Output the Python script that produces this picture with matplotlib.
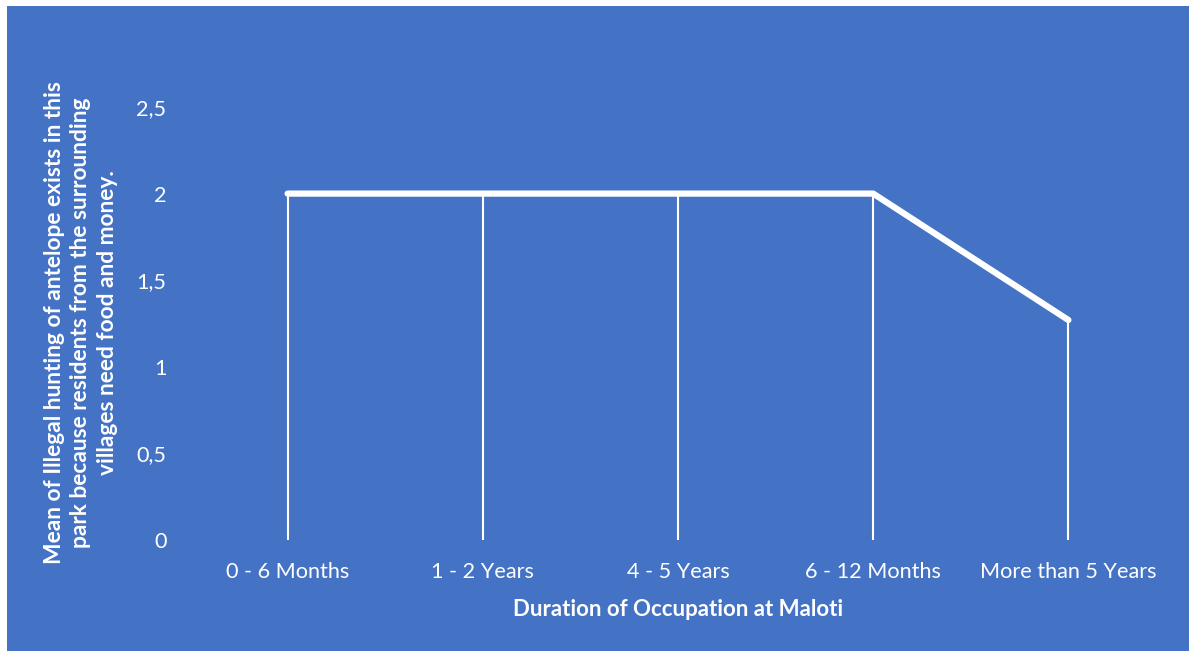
import matplotlib
matplotlib.use("Agg")
import matplotlib.pyplot as plt
from matplotlib.patches import Rectangle

categories = ["0 - 6 Months", "1 - 2 Years", "4 - 5 Years", "6 - 12 Months", "More than 5 Years"]
values = [2.0, 2.0, 2.0, 2.0, 1.27]
yticks = [0, 0.5, 1, 1.5, 2, 2.5]
ytick_labels = ["0", "0,5", "1", "1,5", "2", "2,5"]
xlabel = "Duration of Occupation at Maloti"
ylabel = ("Mean of Illegal hunting of antelope exists in this\n"
          "park because residents from the surrounding\n"
          "villages need food and money.")

BG = "#4472C4"
FONT = ["Lato", "DejaVu Sans"]
plt.rcParams["font.family"] = FONT

W, H = 1189, 651
fig = plt.figure(figsize=(W / 100, H / 100), dpi=100)
fig.patch.set_facecolor("white")
fig.patches.append(Rectangle((7 / W, 0), 1 - 7 / W, 1 - 6 / H, transform=fig.transFigure,
                             facecolor=BG, edgecolor="none", zorder=-10))

ax = fig.add_axes([190 / W, 1 - 540 / H, (1166 - 190) / W, (540 - 107) / H])
ax.set_zorder(2)
ax.set_facecolor("none")
x = list(range(len(categories)))
ax.vlines(x, 0, values, colors="white", linewidth=1.5, zorder=2)
ax.plot(x, values, color="white", linewidth=4.5, solid_capstyle="round",
        solid_joinstyle="round", zorder=3)

ax.set_xlim(-0.5, len(categories) - 0.5)
ax.set_ylim(0, 2.5)
ax.set_yticks(yticks)
ax.set_yticklabels(ytick_labels)
ax.set_xticks(x)
ax.set_xticklabels(categories)
for s in ax.spines.values():
    s.set_visible(False)
ax.tick_params(axis="both", length=0, colors="white", labelsize=15.6)
ax.tick_params(axis="y", pad=17)
ax.tick_params(axis="x", pad=16)

ax.set_xlabel(xlabel, color="white", fontsize=16, fontweight="bold", labelpad=12)
fig.text(81 / W, 1 - 323 / H, ylabel, rotation=90, color="white", fontsize=16.4,
         fontweight="bold", ha="center", va="center", multialignment="center",
         linespacing=1.35, zorder=5)

fig.savefig("out.png", dpi=100, facecolor=fig.get_facecolor())
